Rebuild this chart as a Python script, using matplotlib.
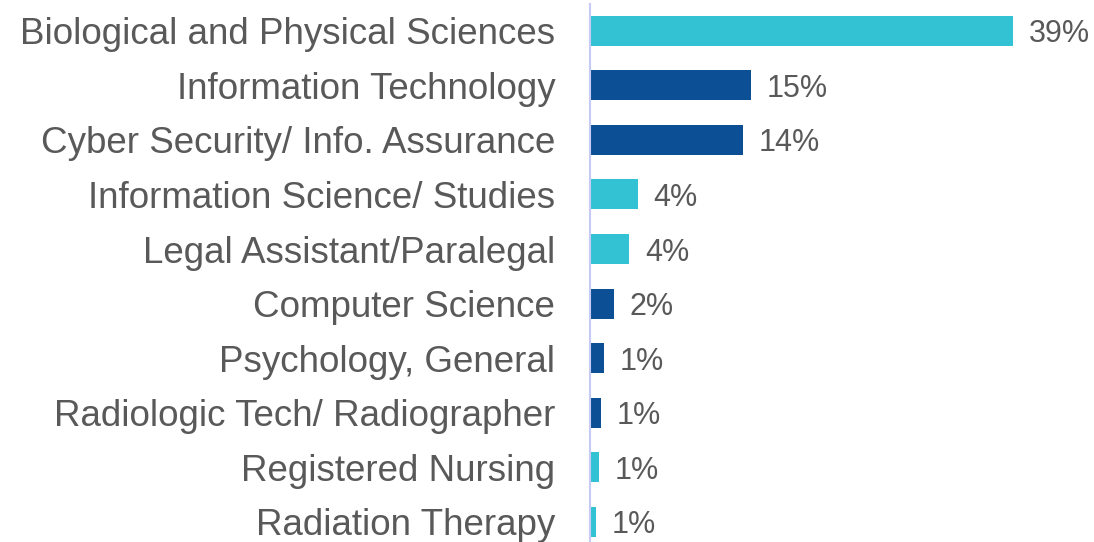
import matplotlib.pyplot as plt

plt.rcParams['font.family'] = ['Liberation Sans', 'DejaVu Sans']

categories = ["Biological and Physical Sciences", "Information Technology",
              "Cyber Security/ Info. Assurance", "Information Science/ Studies",
              "Legal Assistant/Paralegal", "Computer Science", "Psychology, General",
              "Radiologic Tech/ Radiographer", "Registered Nursing", "Radiation Therapy"]
values = [39.0, 14.8, 14.1, 4.4, 3.6, 2.2, 1.3, 1.0, 0.8, 0.55]
cyan = '#33C1D4'
navy = '#0D4F94'
colors = [cyan, navy, navy, cyan, cyan, navy, navy, navy, cyan, cyan]

fig = plt.figure(figsize=(10.94, 5.42), dpi=100)
ax = fig.add_axes([590 / 1094, 1 - 549 / 542, 1 - 590 / 1094 - 0.015, 545.4 / 542])

y = list(range(len(categories)))
ax.barh(y, values, height=0.55, color=colors)
ax.set_ylim(len(categories) - 0.5, -0.5)
ax.set_xlim(0, (1094 * (1 - 0.015) - 590) / 10.85)

for yi, v in zip(y, values):
    ax.annotate('%d%%' % int(v + 0.5), (v, yi), xytext=(11.5, 0), textcoords='offset points',
                va='center_baseline', ha='left', fontsize=22, color='#595959')

ax.set_yticks(y)
ax.set_yticklabels(categories, fontsize=26.5, color='#595959')
ax.tick_params(axis='y', length=0, pad=25)
ax.set_xticks([])

for s in ['top', 'right', 'bottom']:
    ax.spines[s].set_visible(False)
ax.spines['left'].set_color('#C5CBF5')
ax.spines['left'].set_linewidth(1.5)

fig.savefig('out.png', dpi=100)
